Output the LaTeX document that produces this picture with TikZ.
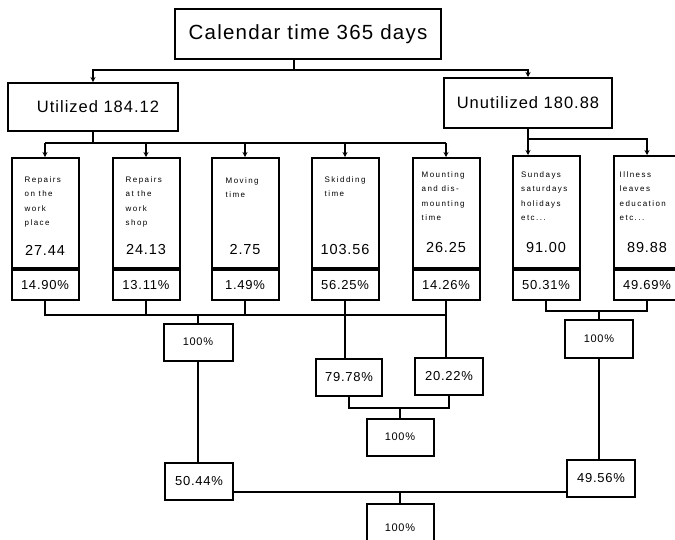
\documentclass[tikz,border=0pt]{standalone}
\usepackage{fontspec}
\setmainfont{Liberation Sans}[LetterSpace=6]
\newfontfamily\widesmall{Liberation Sans}[LetterSpace=18]
\usetikzlibrary{arrows.meta, positioning, calc}

\begin{document}
\begin{tikzpicture}[x=1pt, y=-1pt,
  framebox/.style={rectangle, draw, line width=2pt, inner sep=0pt, minimum width=#1},
  causebox/.style={framebox=67pt, minimum height=110pt},
  sharebox/.style={framebox=67pt, minimum height=30pt, font=\fontsize{13}{15}\selectfont},
  sumbox/.style={framebox=67pt, minimum height=37pt, font=\fontsize{13}{15}\selectfont},
  wholebox/.style={sumbox, font=\fontsize{11}{13}\selectfont},
  notetext/.style={anchor=north west, inner sep=0pt, align=left, font=\widesmall\fontsize{8}{14.5}\selectfont},
  numtext/.style={inner sep=0pt, font=\fontsize{14.5}{16}\selectfont},
  link/.style={line width=2pt},
  feed/.style={link, -{Stealth[length=5pt, width=5pt]}}
]
  \useasboundingbox (0,0) rectangle (675,539);
  \clip (0,0) rectangle (675,539);
  \fill[white] (0,0) rectangle (675,539);

  % totals
  \node[framebox=266pt, minimum height=50pt, font=\fontsize{20.5}{22}\selectfont] (cal) at (308,34) {Calendar time 365 days};
  \node[framebox=170pt, minimum height=48pt, font=\fontsize{16.5}{18}\selectfont] (util) at (93,107) {\hspace{10pt}Utilized 184.12};
  \node[framebox=168pt, minimum height=50pt, font=\fontsize{16.5}{18}\selectfont] (unutil) at (528,103) {Unutilized 180.88};

  % utilized time
  \node[causebox] (b1) at (45,213) {};
  \node[notetext] (b1note) at ([xshift=14pt, yshift=-19pt]b1.north west) {Repairs\\on the\\work\\place};
  \node[numtext] (b1val) at ([yshift=19pt]b1.south) {27.44};
  \node[sharebox, below=0pt of b1] (p1) {14.90\%};

  \node[causebox] (b2) at (146,213) {};
  \node[notetext] (b2note) at ([xshift=14pt, yshift=-19pt]b2.north west) {Repairs\\at the\\work\\shop};
  \node[numtext] (b2val) at ([yshift=19pt]b2.south) {24.13};
  \node[sharebox, below=0pt of b2] (p2) {13.11\%};

  \node[causebox] (b3) at (245,213) {};
  \node[notetext] (b3note) at ([xshift=15pt, yshift=-20pt]b3.north west) {Moving\\time};
  \node[numtext] (b3val) at ([yshift=19pt]b3.south) {2.75};
  \node[sharebox, below=0pt of b3] (p3) {1.49\%};

  \node[causebox] (b4) at (345,213) {};
  \node[notetext] (b4note) at ([xshift=14pt, yshift=-19pt]b4.north west) {Skidding\\time};
  \node[numtext] (b4val) at ([yshift=19pt]b4.south) {103.56};
  \node[sharebox, below=0pt of b4] (p4) {56.25\%};

  \node[causebox] (b5) at (446,213) {};
  \node[notetext] (b5note) at ([xshift=10pt, yshift=-14pt]b5.north west) {Mounting\\and dis-\\mounting\\time};
  \node[numtext] (b5val) at ([yshift=21pt]b5.south) {26.25};
  \node[sharebox, below=0pt of b5] (p5) {14.26\%};

  % unutilized time
  \node[causebox, minimum height=112pt] (b6) at (546,212) {};
  \node[notetext] (b6note) at ([xshift=9.5pt, yshift=-16pt]b6.north west) {Sundays\\saturdays\\holidays\\etc...};
  \node[numtext] (b6val) at ([yshift=21pt]b6.south) {91.00};
  \node[sharebox, below=0pt of b6] (p6) {50.31\%};

  \node[causebox, minimum height=112pt] (b7) at (647,212) {};
  \node[notetext] (b7note) at ([xshift=7pt, yshift=-16pt]b7.north west) {Illness\\leaves\\education\\etc...};
  \node[numtext] (b7val) at ([yshift=21pt]b7.south) {89.88};
  \node[sharebox, below=0pt of b7] (p7) {49.69\%};

  % sub totals
  \node[wholebox, minimum width=69pt] (lsum) at (198,342) {100\%};
  \node[sumbox, minimum width=66pt] (s79) at (349,377) {79.78\%};
  \node[sumbox, minimum width=68pt] (s20) at (449,376) {20.22\%};
  \node[wholebox] (msum) at (400,437) {100\%};
  \node[wholebox, minimum width=68pt, minimum height=38pt] (rsum) at (599,339) {100\%};
  \node[sumbox, minimum width=68pt] (u50) at (199,481) {50.44\%};
  \node[sumbox, minimum width=68pt] (u49) at (601,478) {49.56\%};
  \node[wholebox, minimum height=48pt] (total) at (400,528) {100\%};

  % top connections
  \draw[link] ([xshift=-14pt]cal.south) -- ++(0,10) coordinate (calsplit);
  \draw[feed] (calsplit) -| (util.north);
  \draw[feed] (calsplit) -| (unutil.north);

  \draw[link] (util.south) -- ++(0,11) coordinate (utilsplit);
  \draw[link] (utilsplit -| b1.north) -- (utilsplit -| b5.north);
  \draw[feed] (utilsplit -| b1.north) -- (b1.north);
  \draw[feed] (utilsplit -| b2.north) -- (b2.north);
  \draw[feed] (utilsplit -| b3.north) -- (b3.north);
  \draw[feed] (utilsplit -| b4.north) -- (b4.north);
  \draw[feed] (utilsplit -| b5.north) -- (b5.north);

  \draw[link] (unutil.south) -- ++(0,10) coordinate (unsplit);
  \draw[feed] (unsplit) -- (unsplit |- b6.north);
  \draw[feed] (unsplit) -| (b7.north);

  % bottom connections
  \draw[link] (p1.south) -- ++(0,14) coordinate (shsplit) -| (p5.south);
  \draw[link] (p2.south) -- (p2.south |- shsplit);
  \draw[link] (p3.south) -- (p3.south |- shsplit);
  \draw[link] (lsum.north |- shsplit) -- (lsum.north);
  \draw[link] (p4.south) -- (p4.south |- s79.north);
  \draw[link] (p5.south) -- (p5.south |- s20.north);

  \draw[link] (s79.south) -- ++(0,11) coordinate (skidsplit) -| (s20.south);
  \draw[link] (skidsplit -| msum.north) -- (msum.north);

  \draw[link] (p6.south) -- ++(0,10) coordinate (offsplit) -| (p7.south);
  \draw[link] (offsplit -| rsum.north) -- (rsum.north);

  \draw[link] (lsum.south) -- (lsum.south |- u50.north);
  \draw[link] (rsum.south) -- (rsum.south |- u49.north);

  \coordinate (joint) at (400,492);
  \draw[link] (u50.east |- joint) -- (u49.west |- joint);
  \draw[link] (joint) -- (total.north);
\end{tikzpicture}
\end{document}
